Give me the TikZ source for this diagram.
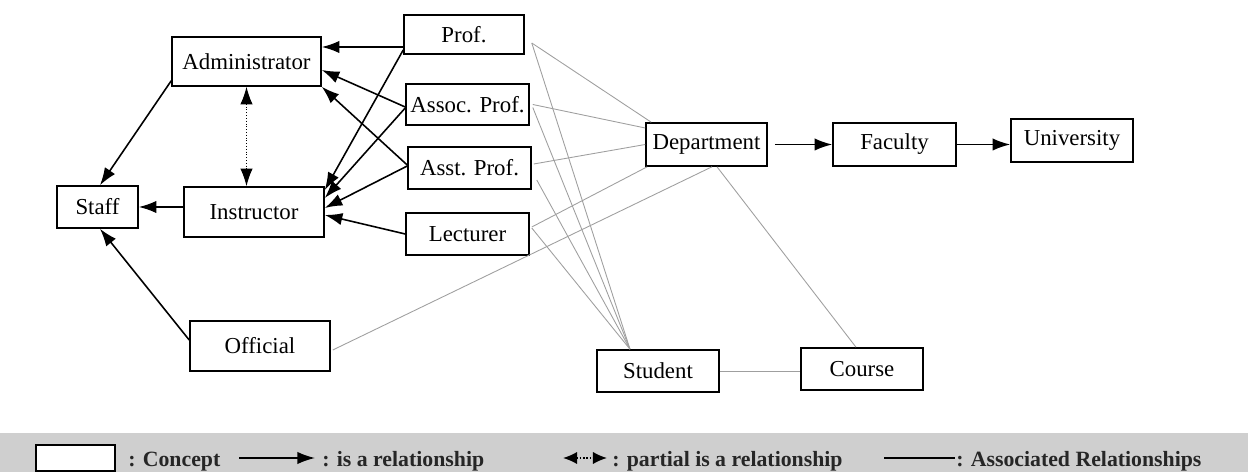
\documentclass[tikz,border=0pt]{standalone}
\usepackage{fontspec}
\setmainfont{Liberation Serif}
\usetikzlibrary{arrows.meta}
\tikzset{
	concept/.style={draw, line width=0.9pt, fill=white, inner sep=0pt, font=\fontsize{13}{15}\selectfont},
	isa/.style={-{Latex[length=10pt,width=7pt]}, line width=0.9pt},
	partial/.style={{Latex[length=10pt,width=7pt]}-{Latex[length=10pt,width=7pt]}, densely dotted, line width=0.6pt},
	assoc/.style={gray!75, line width=0.5pt},
	legendtext/.style={anchor=base west, inner sep=0pt, text=black!85, font=\bfseries\fontsize{12.4}{14}\selectfont}
}
\begin{document}
\begin{tikzpicture}[x=0.02cm, y=-0.02cm]
	\useasboundingbox (0,0) rectangle (1248,472);
	
	% Concepts
	\node[concept, minimum width=2.40cm, minimum height=0.78cm] (prof) at (464,34.5) {Prof.};
	\node[concept, minimum width=2.98cm, minimum height=0.98cm] (admin) at (246.5,61.5) {Administrator};
	\node[concept, minimum width=2.46cm, minimum height=0.82cm] (assoc) at (467.5,104.5) {Assoc. Prof.};
	\node[concept, minimum width=2.46cm, minimum height=0.84cm] (asst) at (469.5,168) {Asst. Prof.};
	\node[concept, minimum width=2.46cm, minimum height=0.84cm] (lect) at (467.5,234) {Lecturer};
	\node[concept, minimum width=2.42cm, minimum height=0.86cm] (dept) at (706.5,144.5) {Department};
	\node[concept, minimum width=2.46cm, minimum height=0.86cm] (fac) at (894.5,144.5) {Faculty};
	\node[concept, minimum width=2.44cm, minimum height=0.86cm] (univ) at (1072,140.5) {University};
	\node[concept, minimum width=1.62cm, minimum height=0.84cm] (staff) at (97.5,207) {Staff};
	\node[concept, minimum width=2.80cm, minimum height=1.00cm] (instr) at (254,212) {Instructor};
	\node[concept, minimum width=2.80cm, minimum height=1.00cm] (offic) at (260,346) {Official};
	\node[concept, minimum width=2.44cm, minimum height=0.84cm] (stud) at (658,371) {Student};
	\node[concept, minimum width=2.44cm, minimum height=0.84cm] (course) at (862,369) {Course};
	
	% Associated relationships
	\coordinate (meet) at ([xshift=-0.56cm]stud.north);
	\draw[assoc] ([xshift=0.14cm, yshift=-0.17cm]prof.east) -- ([xshift=0.12cm]dept.north west);
	\draw[assoc] ([xshift=0.14cm, yshift=-0.17cm]prof.east) -- (meet);
	\draw[assoc] ([xshift=0.06cm]assoc.east) -- ([yshift=0.33cm]dept.west);
	\draw[assoc] ([xshift=0.06cm, yshift=-0.06cm]assoc.east) -- (meet);
	\draw[assoc] ([xshift=0.04cm, yshift=0.08cm]asst.east) -- (dept.west);
	\draw[assoc] ([xshift=0.1cm, yshift=-0.24cm]asst.east) -- (meet);
	\draw[assoc] ([xshift=0.04cm, yshift=0.14cm]lect.east) -- ([xshift=0.04cm]dept.south west);
	\draw[assoc] ([xshift=0.04cm, yshift=0.12cm]lect.east) -- (meet);
	\draw[assoc] ([xshift=0.04cm, yshift=-0.08cm]offic.east) -- ([xshift=0.11cm]dept.south);
	\draw[assoc] ([xshift=0.21cm]dept.south) -- ([xshift=-0.12cm]course.north);
	\draw[assoc] (stud.east) -- (stud.east -| course.west);
	
	% Is-a relationships
	\draw[isa] ([yshift=-0.25cm]prof.west) -- ([yshift=0.29cm]admin.east);
	\draw[isa] ([yshift=-0.31cm]prof.west) -- ([yshift=0.44cm]instr.east);
	\draw[isa] ([yshift=-0.05cm]assoc.west) -- ([yshift=-0.17cm]admin.east);
	\draw[isa] ([yshift=-0.07cm]assoc.west) -- ([yshift=0.28cm]instr.east);
	\draw[isa] ([yshift=0.06cm]asst.west) -- (admin.south east);
	\draw[isa] ([yshift=0.04cm]asst.west) -- ([yshift=0.08cm]instr.east);
	\draw[isa] (lect.west) -- ([yshift=-0.06cm]instr.east);
	\draw[isa] (instr.west |- staff.east) -- (staff.east);
	\draw[isa] ([yshift=0.12cm]admin.south west) -- ([xshift=0.05cm]staff.north);
	\draw[isa] ([yshift=0.12cm]offic.west) -- ([xshift=0.05cm]staff.south);
	\draw[isa] ([xshift=0.14cm]dept.east) -- (fac.west);
	\draw[isa] (fac.east) -- (fac.east -| univ.west);
	
	% Partial is-a relationship
	\draw[partial] (admin.south) -- (admin.south |- instr.north);
	
	% Legend
	\fill[gray!38] (0,433) rectangle (1248,472);
	\node[draw, fill=white, line width=0.8pt, minimum width=1.58cm, minimum height=0.52cm] (legconcept) at (75.5,458) {};
	\node[legendtext] (legconcepttext) at (128,467) {: Concept};
	\coordinate (legisa) at (239,458);
	\coordinate (legisaend) at (315,458);
	\node[legendtext] (legisatext) at (322,467) {: is a relationship};
	\draw[isa] (legisa) -- (legisaend);
	\coordinate (legpartial) at (563,458);
	\coordinate (legpartialend) at (607,458);
	\node[legendtext] (legpartialtext) at (612,467) {: partial is a relationship};
	\draw[partial, {Latex[length=8pt,width=7pt]}-{Latex[length=8pt,width=7pt]}, line width=0.9pt] (legpartial) -- (legpartialend);
	\coordinate (legassoc) at (884,458);
	\coordinate (legassocend) at (955,458);
	\node[legendtext] (legassoctext) at (956,467) {: Associated Relationships};
	\draw[line width=0.9pt] (legassoc) -- (legassocend);
\end{tikzpicture}
\end{document}
